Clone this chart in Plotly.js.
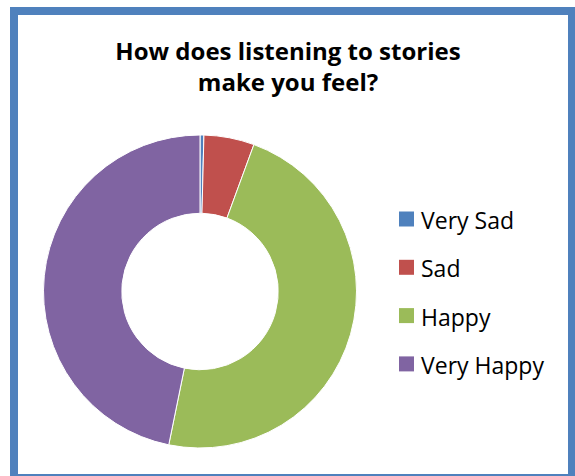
<!DOCTYPE html>
<html>
<head>
<meta charset="utf-8">
<script src="https://cdn.plot.ly/plotly-3.0.1.min.js"></script>
<style>
html, body { margin: 0; padding: 0; background: #ffffff; }
#chart { width: 575px; height: 476px; }
</style>
</head>
<body>
<div id="chart"></div>
<script>
// Data
const categories = ['Very Sad', 'Sad', 'Happy', 'Very Happy'];
const values = [1, 13, 119, 117];
const colors = ['#4F81BD', '#C0504D', '#9BBB59', '#8064A2'];
const titleText = 'How does listening to stories<br>make you feel?';

const W = 575, H = 476;
const px = x => x / W;
const py = y => 1 - y / H;

const trace = {
  type: 'pie',
  labels: categories,
  values: values,
  hole: 0.5,
  sort: false,
  direction: 'clockwise',
  rotation: 0,
  textinfo: 'none',
  hoverinfo: 'label+value+percent',
  marker: { colors: colors, line: { color: '#ffffff', width: 1 } },
  domain: { x: [px(43.5), px(356.5)], y: [py(448), py(135)] },
  showlegend: false
};

// Custom legend built from the categories/colors arrays
const shapes = [];
const annotations = [];
const legendX0 = 399, legendSq = 15, legendY0 = 219, legendStep = 48.3, legendTextX = 419;
categories.forEach((c, i) => {
  const cy = legendY0 + i * legendStep;
  shapes.push({
    type: 'rect', xref: 'paper', yref: 'paper',
    x0: px(legendX0), x1: px(legendX0 + legendSq),
    y0: py(cy + legendSq / 2), y1: py(cy - legendSq / 2),
    fillcolor: colors[i], line: { width: 0 }
  });
  annotations.push({
    xref: 'paper', yref: 'paper',
    x: px(legendTextX), y: py(cy + 1),
    xanchor: 'left', yanchor: 'middle',
    text: c, showarrow: false,
    font: { family: 'Open Sans, sans-serif', size: 23, color: '#000000' }
  });
});

// Outer chart-area border
shapes.push({
  type: 'rect', xref: 'paper', yref: 'paper',
  x0: px(14), x1: px(572), y0: py(478), y1: py(11),
  line: { color: '#4F81BD', width: 8 }, fillcolor: 'rgba(0,0,0,0)'
});

const layout = {
  width: W, height: H,
  margin: { l: 0, r: 0, t: 0, b: 0 },
  paper_bgcolor: '#ffffff',
  title: {
    text: titleText,
    font: { family: 'Open Sans, sans-serif', size: 24, color: '#000000', weight: 'bold' },
    x: px(288), xanchor: 'center', xref: 'paper',
    y: py(60), yanchor: 'top', yref: 'container'
  },
  showlegend: false,
  shapes: shapes,
  annotations: annotations
};

Plotly.newPlot('chart', [trace], layout, { displayModeBar: false, responsive: false });
</script>
</body>
</html>
